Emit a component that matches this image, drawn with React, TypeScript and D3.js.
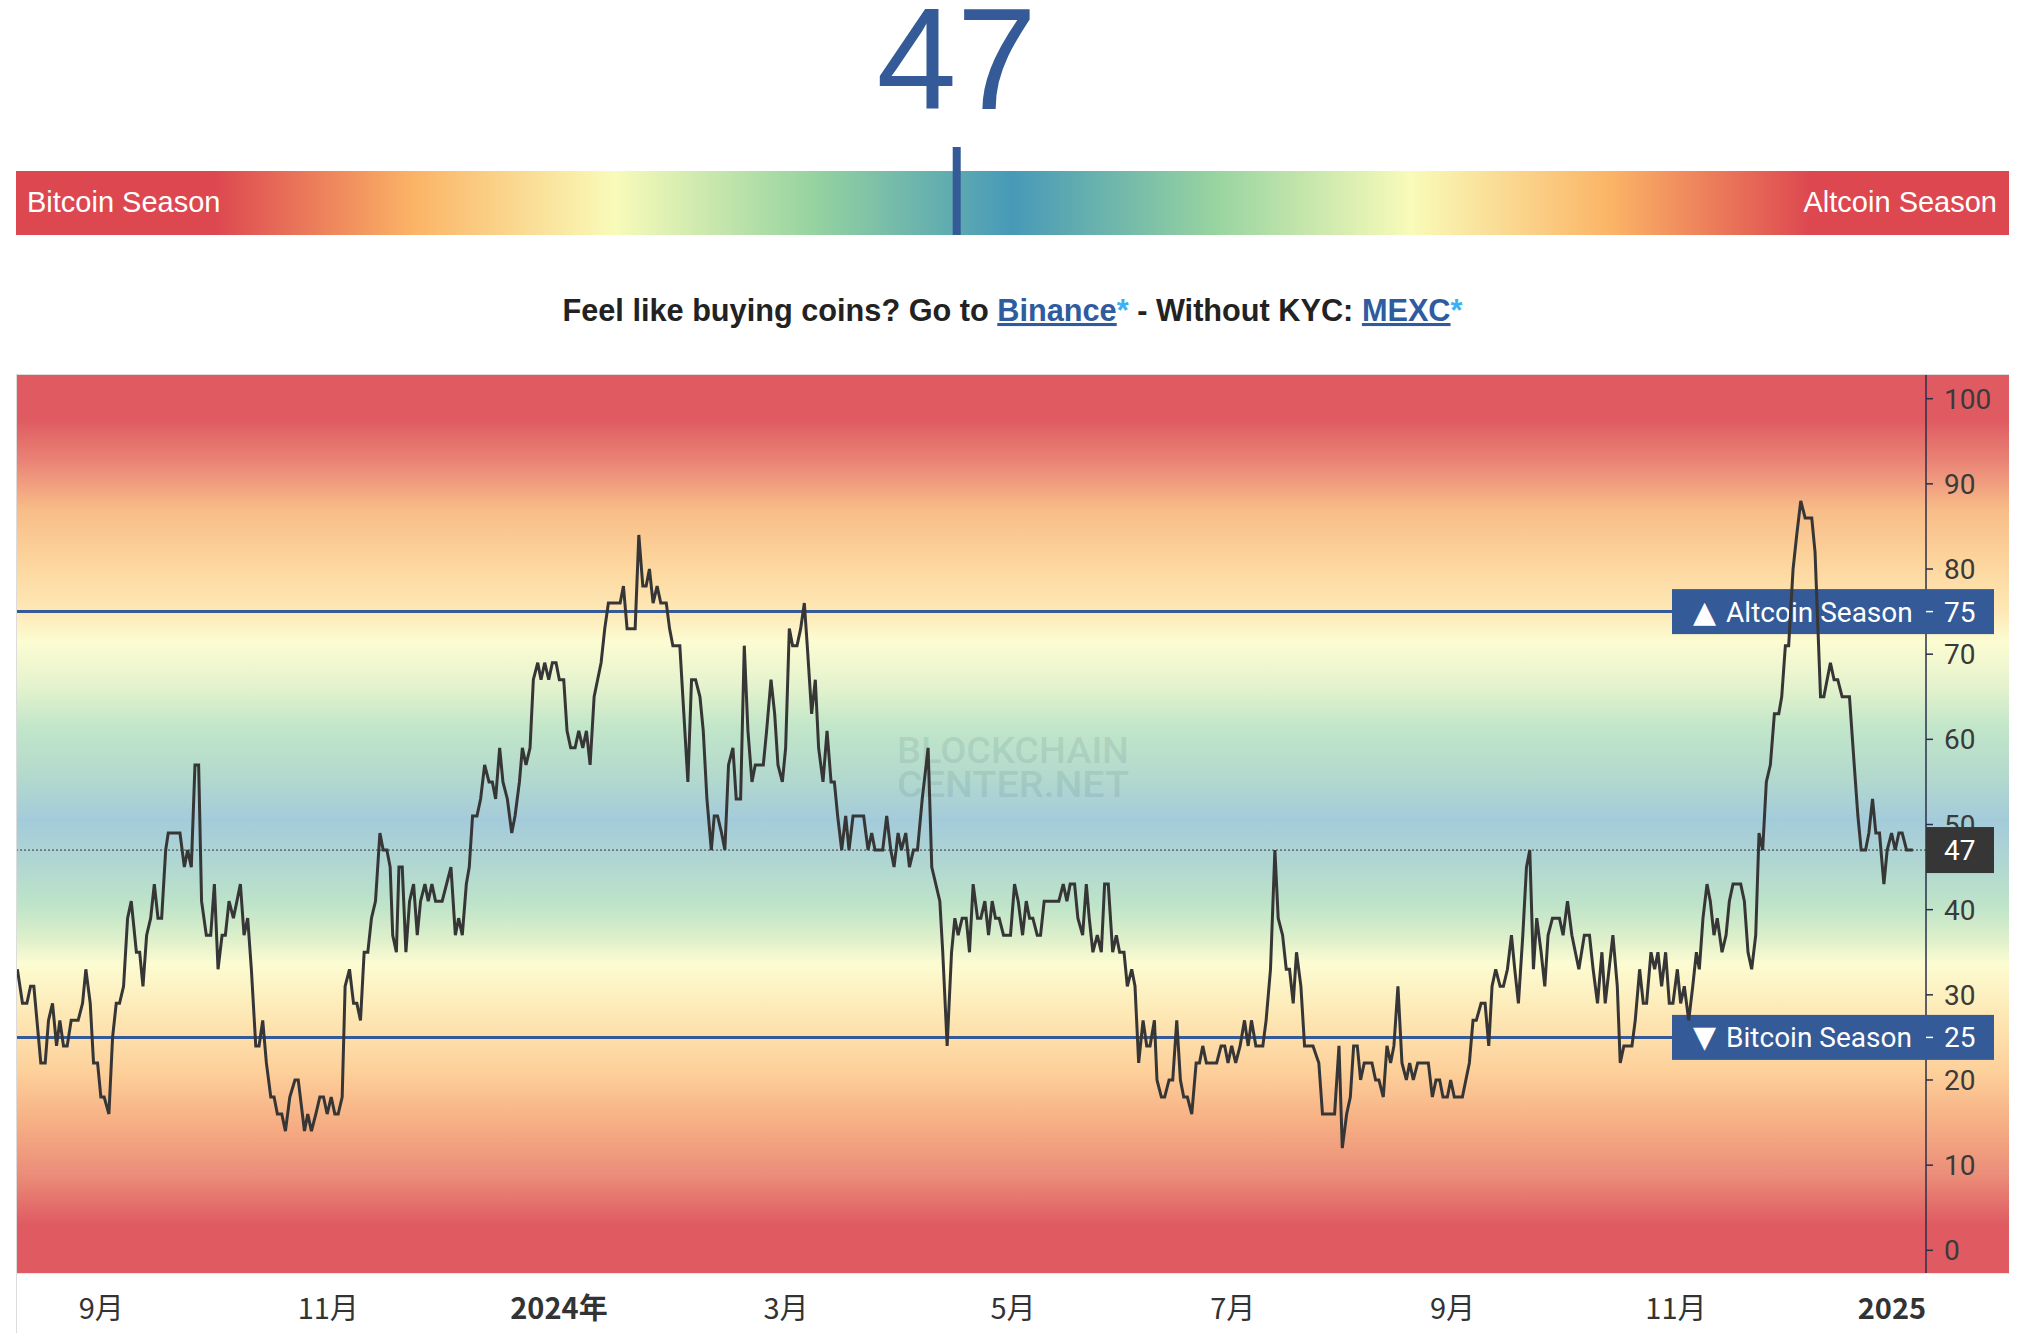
import React from 'react';
import * as d3 from 'd3';

// ---------- DATA ----------
// Altcoin Season Index, one bar per daily reading: [bar position, index value]
const CURRENT_VALUE = 47;

const aug2023: [number, number][] = [
  [0.1, 33], [1.5, 29], [2.7, 29], [3.7, 31], [4.6, 31], [6.5, 22], [7.7, 22], [8.6, 27], [9.7, 29], [10.8, 24],
  [11.7, 27], [12.7, 24], [13.7, 24], [14.8, 27], [16.7, 27], [17.9, 29], [18.8, 33], [20.0, 29], [20.9, 22], [22.0, 22],
  [22.9, 18], [23.8, 18], [25.1, 16], [26.1, 25], [27.1, 29], [28.0, 29], [29.1, 31], [30.2, 39], [31.2, 41], [32.6, 35],
  [33.5, 35], [34.4, 31], [35.4, 37], [36.5, 39], [37.5, 43], [38.5, 39], [39.5, 39], [40.6, 47], [41.3, 49], [44.5, 49],
  [45.7, 45], [46.6, 47], [47.6, 45], [48.6, 57], [49.6, 57], [50.4, 41], [51.7, 37], [52.9, 37], [53.9, 43], [54.9, 33],
  [56.0, 37], [56.9, 37], [57.9, 41], [59.1, 39], [61.0, 43], [62.0, 37], [63.0, 39], [64.0, 33], [65.2, 24], [66.1, 24],
  [67.1, 27], [68.1, 22], [69.3, 18], [70.2, 18], [71.1, 16], [72.3, 16], [73.3, 14], [74.5, 18], [75.9, 20], [76.8, 20],
  [78.5, 14], [79.4, 16], [80.4, 14], [81.6, 16], [82.7, 18], [83.7, 18], [84.7, 16], [85.8, 18], [86.8, 16], [87.7, 16],
  [88.8, 18],
];

const nov2023: [number, number][] = [
  [89.6, 31], [90.8, 33], [91.9, 29], [92.8, 29], [93.8, 27], [94.8, 35], [95.8, 35], [96.8, 39], [97.9, 41], [99.1, 49],
  [100.0, 47], [101.0, 47], [101.9, 45], [102.6, 37], [103.6, 35], [104.3, 45], [105.2, 45], [106.2, 35], [107.2, 41], [108.3, 43],
  [109.3, 37], [110.2, 41], [111.4, 43], [112.3, 41], [113.3, 43], [114.3, 41], [116.1, 41], [118.5, 45], [119.7, 37], [120.6, 39],
  [121.6, 37], [122.7, 43], [123.5, 45], [124.4, 51], [125.6, 51], [126.6, 53], [127.7, 57], [128.9, 55], [129.8, 55], [130.7, 53],
  [131.8, 59], [132.7, 55], [133.9, 53], [135.1, 49], [136.0, 51], [137.2, 55], [138.0, 59], [139.0, 57], [140.1, 59], [141.0, 67],
  [142.2, 69], [143.1, 67], [144.1, 69], [145.2, 67], [146.2, 69], [147.2, 69],
];

const jan2024: [number, number][] = [
  [148.1, 67], [149.3, 67], [150.2, 61], [151.2, 59], [152.4, 59], [153.4, 61], [154.5, 59], [155.5, 61], [156.5, 57], [157.6, 65],
  [159.5, 69], [160.5, 73], [161.5, 76], [164.7, 76], [165.6, 78], [166.6, 73], [168.8, 73], [169.8, 84], [170.9, 78], [171.8, 78],
  [172.7, 80], [173.7, 76], [174.8, 78], [175.8, 76], [177.3, 76], [178.2, 73], [179.1, 71], [181.0, 71], [182.1, 63], [183.2, 55],
  [184.2, 67], [185.3, 67], [186.5, 65], [187.4, 61], [188.4, 53], [189.6, 47], [190.4, 51], [191.3, 51], [192.4, 49], [193.3, 47],
  [194.3, 57], [195.5, 59], [196.4, 53], [197.6, 53], [198.6, 71], [199.6, 61], [200.7, 55], [201.6, 57], [203.8, 57], [204.7, 61],
  [205.9, 67], [206.9, 63], [207.8, 57],
];

const mar2024: [number, number][] = [
  [209.0, 55], [209.9, 59], [210.9, 73], [211.8, 71], [213.0, 71], [214.0, 73], [215.0, 76], [215.8, 71], [217.0, 63], [218.0, 67],
  [218.9, 59], [220.1, 55], [221.2, 61], [222.3, 55], [223.2, 55], [224.1, 51], [225.2, 47], [226.3, 51], [227.2, 47], [228.3, 51],
  [231.2, 51], [232.4, 47], [233.4, 49], [234.3, 47], [236.4, 47], [237.5, 51], [238.6, 47], [239.5, 45], [240.6, 49], [241.5, 47],
  [242.7, 49], [243.7, 45], [244.8, 47], [245.9, 47], [247.2, 53], [248.8, 59], [249.8, 45], [252.0, 41], [252.8, 35], [254.0, 24],
  [255.2, 35], [256.1, 39], [257.0, 37], [258.1, 39], [259.2, 39], [260.1, 35], [261.1, 43], [262.3, 39], [263.2, 39], [264.3, 41],
  [265.3, 37], [266.3, 41], [267.2, 39], [268.2, 39],
];

const may2024: [number, number][] = [
  [269.4, 37], [271.3, 37], [272.4, 43], [273.4, 41], [274.6, 37], [275.6, 41], [276.5, 39], [277.4, 39], [278.6, 37], [279.5, 37],
  [280.5, 41], [284.5, 41], [285.7, 43], [286.7, 41], [287.6, 43], [288.8, 43], [289.7, 39], [291.0, 37], [292.0, 43], [292.8, 39],
  [293.8, 35], [295.0, 37], [296.1, 35], [297.0, 43], [298.0, 43], [299.2, 35], [300.2, 37], [301.1, 35], [302.3, 35], [303.2, 31],
  [304.4, 33], [305.3, 31], [306.3, 22], [307.5, 27], [308.5, 24], [309.4, 24], [310.6, 27], [311.3, 20], [312.5, 18], [313.4, 18],
  [314.6, 20], [315.6, 20], [316.7, 27], [317.7, 20], [318.6, 18], [319.6, 18], [320.8, 16], [322.0, 22], [322.9, 22], [323.8, 24],
  [324.8, 22], [327.6, 22], [328.8, 24], [329.8, 24],
];

const jul2024: [number, number][] = [
  [330.7, 22], [331.7, 24], [332.8, 22], [334.0, 24], [335.2, 27], [336.2, 24], [337.1, 27], [338.3, 24], [340.2, 24], [341.1, 27],
  [342.3, 33], [343.5, 47], [344.4, 39], [345.6, 37], [346.6, 33], [347.5, 33], [348.5, 29], [349.4, 35], [350.6, 31], [351.6, 24],
  [353.9, 24], [355.5, 22], [356.5, 16], [359.8, 16], [361.0, 24], [361.9, 12], [363.1, 16], [364.1, 18], [365.0, 24], [366.0, 24],
  [366.9, 20], [367.9, 22], [370.0, 22], [371.0, 20], [371.9, 20], [373.1, 18], [374.1, 24], [375.1, 22], [376.0, 24], [377.1, 31],
  [378.2, 22], [379.4, 20], [380.3, 22], [381.3, 20], [382.5, 22], [385.4, 22], [386.5, 18], [387.5, 20], [388.5, 20], [389.4, 18],
  [390.6, 18], [391.5, 20],
];

const sep2024: [number, number][] = [
  [392.5, 18], [394.7, 18], [396.6, 22], [397.6, 27], [398.5, 27], [399.8, 29], [400.9, 29], [401.9, 24], [402.8, 31], [403.8, 33],
  [405.0, 31], [405.9, 31], [407.0, 33], [408.1, 37], [409.0, 33], [410.0, 29], [411.2, 37], [412.2, 45], [413.1, 47], [414.1, 33],
  [415.0, 39], [416.2, 35], [417.2, 31], [418.1, 37], [419.3, 39], [421.2, 39], [422.2, 37], [423.4, 41], [424.6, 37], [426.5, 33],
  [428.0, 37], [429.4, 37], [430.4, 33], [431.6, 29], [432.8, 35], [433.7, 29], [435.8, 37], [437.0, 31], [437.8, 22], [438.8, 24],
  [441.0, 24], [441.9, 27], [443.1, 33], [444.1, 29], [445.0, 29], [446.2, 35], [447.2, 33], [448.1, 35], [449.1, 31], [450.2, 35],
  [451.2, 29], [452.2, 29],
];

const nov2024: [number, number][] = [
  [453.4, 33], [454.3, 29], [455.3, 31], [456.5, 27], [457.6, 31], [458.6, 35], [459.4, 33], [460.4, 39], [461.5, 43], [462.4, 41],
  [463.4, 37], [464.3, 39], [465.6, 35], [466.7, 37], [467.6, 41], [468.6, 43], [470.7, 43], [471.7, 41], [472.7, 35], [473.7, 33],
  [474.8, 37], [475.7, 49], [476.7, 47], [477.7, 55], [478.8, 57], [479.9, 63], [481.1, 63], [481.9, 65], [482.9, 71], [483.8, 71],
  [485.0, 80], [486.0, 84], [487.1, 88], [488.3, 86], [490.1, 86], [491.0, 82], [492.5, 65], [493.4, 65], [495.2, 69], [496.2, 67],
  [497.2, 67], [498.4, 65], [500.4, 65], [501.7, 57], [502.7, 51], [503.6, 47], [504.8, 47], [505.7, 49], [506.7, 53], [507.6, 49],
  [508.6, 49], [509.8, 43], [510.7, 47], [511.9, 49], [512.9, 47], [513.9, 49], [514.8, 49], [516.0, 47], [517.7, 47],
];

const Y_TICKS = [0, 10, 20, 30, 40, 50, 60, 70, 80, 90, 100];

// time axis: first bar of each labelled month
const MONTH_TICK_BARS = [23, 85, 148, 210, 272, 332, 392, 453, 512];
const MONTH_LABELS = ['9月', '11月', '2024年', '3月', '5月', '7月', '9月', '11月', '2025'];
const MONTH_IS_YEAR = [false, false, true, false, false, false, false, false, true];

const THRESHOLD_VALUES = [75, 25];
const THRESHOLD_ARROWS = ['▲', '▼'];
const THRESHOLD_TITLES = ['Altcoin Season', 'Bitcoin Season'];

// ---------- STYLE ----------
const BLUE = '#345a97';
const LINE_COLOR = '#363636';
const AXIS_FONT = 'Roboto, "Noto Sans", sans-serif';
const ARIAL = '"Liberation Sans", Arial, sans-serif';

// chart background stops by index value
const BG_STOPS: [number, string][] = [
  [103, '#df5b61'], [97.5, '#df5b61'], [92.5, '#ea8577'], [87, '#f8bc88'], [80, '#fdd8a0'], [75, '#fee8b6'],
  [71.5, '#fcfcd2'], [66, '#e3f2cd'], [61.5, '#c2e6c9'], [56, '#b4dacd'], [50.5, '#a4cbda'], [46, '#afd5d3'],
  [40.5, '#bee4c9'], [36.5, '#def0cb'], [33.7, '#fcfcd2'], [28.5, '#fdebb9'], [21, '#fdd09a'], [15, '#f6af84'],
  [9, '#eb8e7a'], [3, '#df5b61'], [-3, '#df5b61'],
];

const BAR_STOPS: [number, string][] = [
  [0, '#dd4850'], [0.1, '#dd4850'], [0.2, '#fbb466'], [0.3, '#f9fbb9'], [0.4, '#96d3a0'], [0.5, '#4799b8'],
  [0.6, '#96d3a0'], [0.7, '#f9fbb9'], [0.8, '#fbb466'], [0.9, '#dd4850'], [1, '#dd4850'],
];

export default function App() {
  const W = 2017;
  const H = 1343;
  const left = 16;
  const right = 2009;
  const plotTop = 375;
  const plotBottom = 1273;
  const axisX = 1926;

  const x = d3.scaleLinear().domain([-0.273, 521.3]).range([left, axisX]);
  const y = d3.scaleLinear().domain([0, 100]).range([1250.3, 398.7]);

  const series = [aug2023, nov2023, jan2024, mar2024, may2024, jul2024, sep2024, nov2024].flat();
  const line = d3
    .line<[number, number]>()
    .x((p) => x(p[0]))
    .y((p) => y(p[1]));

  const barX = d3.scaleLinear().domain([0, 100]).range([left, right]);

  const bgTop = y(103);
  const bgBottom = y(-3);

  const labelW = 68;
  const titleW = 254;

  return (
    <svg
      width={W}
      height={H}
      viewBox={`0 0 ${W} ${H}`}
      style={{ position: 'absolute', left: 0, top: 0, background: '#fff' }}
    >
      <defs>
        <linearGradient id="barGrad" x1="0" x2="1" y1="0" y2="0">
          {BAR_STOPS.map(([o, c], i) => (
            <stop key={i} offset={o} stopColor={c} />
          ))}
        </linearGradient>
        <linearGradient id="bgGrad" gradientUnits="userSpaceOnUse" x1={0} x2={0} y1={bgTop} y2={bgBottom}>
          {BG_STOPS.map(([v, c], i) => (
            <stop key={i} offset={(y(v) - bgTop) / (bgBottom - bgTop)} stopColor={c} />
          ))}
        </linearGradient>
        <clipPath id="plotClip">
          <rect x={left} y={plotTop} width={axisX - left} height={plotBottom - plotTop} />
        </clipPath>
      </defs>

      <rect x={0} y={0} width={W} height={H} fill="#fff" />

      {/* ---------- Top gauge ---------- */}
      <text
        x={barX(CURRENT_VALUE) + 4}
        y={109}
        textAnchor="middle"
        fontFamily={ARIAL}
        fontSize={144}
        fill={BLUE}
      >
        {CURRENT_VALUE}
      </text>
      <rect x={left} y={171} width={right - left} height={64} fill="url(#barGrad)" />
      <rect x={barX(CURRENT_VALUE)} y={147} width={8} height={88} fill={BLUE} />
      <text x={27} y={212} fontFamily={ARIAL} fontSize={29} fill="#fff">
        Bitcoin Season
      </text>
      <text x={1997} y={212} textAnchor="end" fontFamily={ARIAL} fontSize={29} fill="#fff">
        Altcoin Season
      </text>

      <text
        x={(left + right) / 2}
        y={321}
        textAnchor="middle"
        fontFamily={ARIAL}
        fontWeight="bold"
        fontSize={30.7}
        fill="#222"
      >
        Feel like buying coins? Go to{' '}
        <tspan fill="#2f5b9f" textDecoration="underline" style={{ textDecoration: 'underline' }}>
          Binance
        </tspan>
        <tspan fill="#3cb0f2">*</tspan> - Without KYC:{' '}
        <tspan fill="#2f5b9f" textDecoration="underline" style={{ textDecoration: 'underline' }}>
          MEXC
        </tspan>
        <tspan fill="#3cb0f2">*</tspan>
      </text>

      {/* ---------- Chart ---------- */}
      <rect x={left} y={plotTop} width={right - left} height={plotBottom - plotTop} fill="url(#bgGrad)" />

      {/* watermark */}
      <g fontFamily={AXIS_FONT} fontSize={36} fill="rgba(60,105,110,0.14)" fontWeight={500}>
        <text x={897} y={763} textLength={232} lengthAdjust="spacingAndGlyphs">
          BLOCKCHAIN
        </text>
        <text x={897} y={797} textLength={232} lengthAdjust="spacingAndGlyphs">
          CENTER.NET
        </text>
      </g>

      {/* threshold lines */}
      {THRESHOLD_VALUES.map((v) => (
        <line key={v} x1={left} x2={axisX} y1={y(v)} y2={y(v)} stroke={BLUE} strokeWidth={3} />
      ))}

      {/* current value dotted line */}
      <line
        x1={left}
        x2={axisX}
        y1={y(CURRENT_VALUE)}
        y2={y(CURRENT_VALUE)}
        stroke="#333"
        strokeWidth={1}
        strokeDasharray="2 2"
      />

      {/* price axis */}
      <line x1={axisX} x2={axisX} y1={plotTop} y2={plotBottom} stroke="#2b2f4a" strokeWidth={1.5} />
      {Y_TICKS.map((t) => (
        <g key={t}>
          <line x1={axisX} x2={axisX + 7} y1={y(t)} y2={y(t)} stroke="#2b2f4a" strokeWidth={1.5} />
          <text x={1944} y={y(t) + 10} fontFamily={AXIS_FONT} fontSize={28} fill="#3a3a3a">
            {t}
          </text>
        </g>
      ))}

      {/* threshold label boxes */}
      {THRESHOLD_VALUES.map((v, i) => (
        <g key={v}>
          <rect x={axisX - titleW} y={y(v) - 22.5} width={titleW + labelW} height={45} fill={BLUE} />
          <text x={axisX - titleW + 21} y={y(v) + 10} fontFamily={AXIS_FONT} fontSize={28} fill="#fff">
            <tspan fontFamily='"DejaVu Sans", sans-serif' fontSize={30}>
              {THRESHOLD_ARROWS[i]}
            </tspan>
            <tspan dx={10}>{THRESHOLD_TITLES[i]}</tspan>
          </text>
          <line x1={axisX} x2={axisX + 7} y1={y(v)} y2={y(v)} stroke="#fff" strokeWidth={1.5} />
          <text x={1944} y={y(v) + 10} fontFamily={AXIS_FONT} fontSize={28} fill="#fff">
            {v}
          </text>
        </g>
      ))}

      {/* current value box */}
      <rect x={axisX} y={y(CURRENT_VALUE) - 23} width={labelW} height={46} fill="#363636" />
      <text x={1944} y={y(CURRENT_VALUE) + 10} fontFamily={AXIS_FONT} fontSize={28} fill="#fff">
        {CURRENT_VALUE}
      </text>

      {/* data line */}
      <path
        d={line(series) || ''}
        fill="none"
        stroke={LINE_COLOR}
        strokeWidth={3}
        strokeLinejoin="miter"
        clipPath="url(#plotClip)"
      />

      {/* borders */}
      <line x1={left} x2={right} y1={plotTop - 0.5} y2={plotTop - 0.5} stroke="#dcdcdc" strokeWidth={1} />
      <line x1={left} x2={right} y1={plotBottom + 0.5} y2={plotBottom + 0.5} stroke="#e6e6e6" strokeWidth={1} />
      <line x1={left + 0.5} x2={left + 0.5} y1={plotTop - 1} y2={1333} stroke="#dcdcdc" strokeWidth={1} />

      {/* time axis labels */}
      {MONTH_TICK_BARS.map((b, i) => (
        <text
          key={i}
          x={x(b)}
          y={1319}
          textAnchor="middle"
          fontFamily='"Noto Sans CJK SC", Roboto, sans-serif'
          fontSize={29}
          fontWeight={MONTH_IS_YEAR[i] ? 'bold' : 'normal'}
          fill="#333"
        >
          {MONTH_LABELS[i]}
        </text>
      ))}
    </svg>
  );
}
